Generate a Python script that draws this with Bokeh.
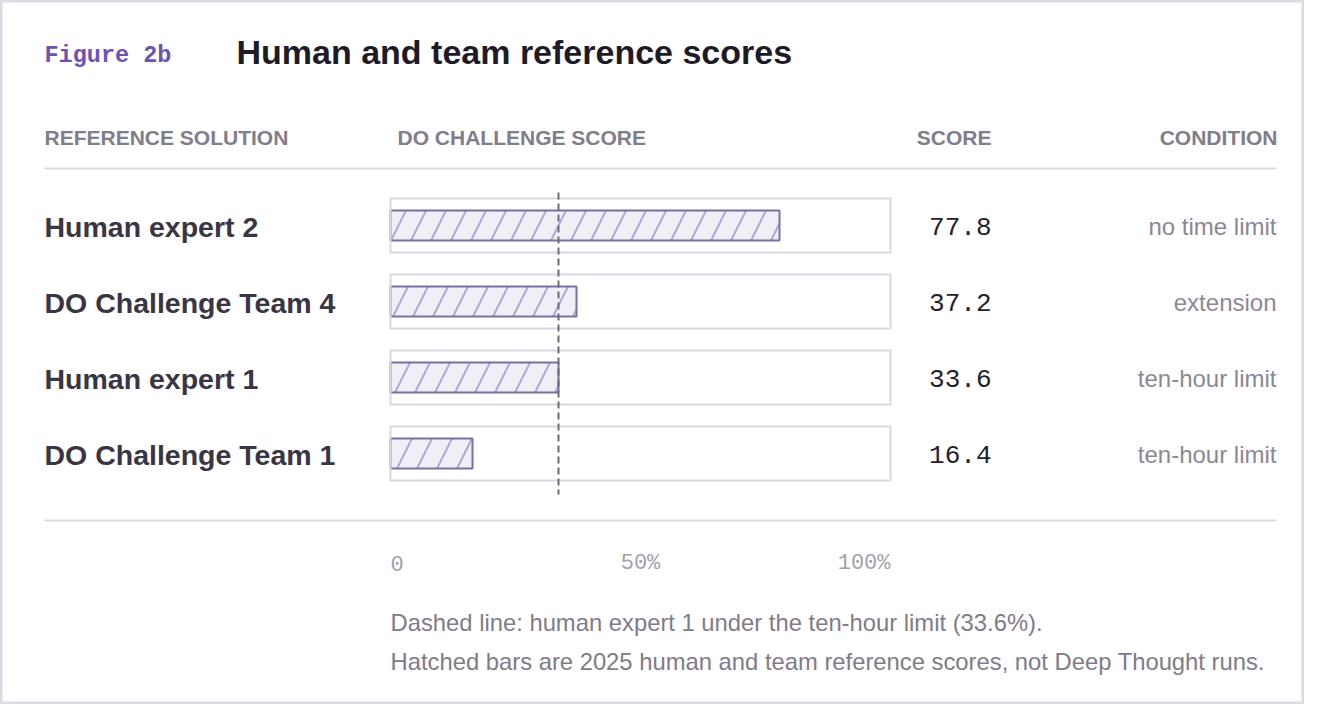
from bokeh.core.properties import value
from bokeh.embed import file_html
from bokeh.models import ColumnDataSource, Range1d
from bokeh.plotting import figure
from bokeh.resources import INLINE

# data
solutions = ["Human expert 2", "DO Challenge Team 4", "Human expert 1", "DO Challenge Team 1"]
scores = [77.8, 37.2, 33.6, 16.4]
conditions = ["no time limit", "extension", "ten-hour limit", "ten-hour limit"]
reference_score = 33.6  # human expert 1, ten-hour limit
tick_values = [0, 50, 100]
tick_labels = ["0", "50%", "100%"]

SANS = value("Liberation Sans")
MONO = value("Liberation Mono")

W, H = 1304, 704
X0, PX = 390, 5.0  # pixel of score 0, pixels per score point
Y0, ROW = 225, 76  # pixel of the first row centre, row pitch


def sx(px):
    # canvas pixel -> score units
    return (px - X0) / PX


def sy(py):
    # canvas pixel -> row units
    return (py - Y0) / ROW


p = figure(width=W, height=H, output_backend="svg", toolbar_location=None,
           x_range=Range1d(sx(0), sx(W)), y_range=Range1d(sy(H), sy(0)),
           x_axis_type=None, y_axis_type=None, min_border=0)
p.grid.visible = False
p.background_fill_color = "white"
p.border_fill_color = "white"
p.outline_line_color = "#dcdae2"
p.outline_line_width = 4

rows = list(range(len(solutions)))
src = ColumnDataSource(dict(
    row=rows,
    label_y=[r + 1 / ROW for r in rows],
    solution=solutions,
    score=scores,
    score_text=["{:.1f}".format(s) for s in scores],
    condition=conditions,
))

# track boxes, hatched bars, then the box outline on top
p.hbar(y="row", left=0, right=100, height=54 / ROW, source=src,
       fill_color="white", line_color=None)
p.hbar(y="row", left=0, right="score", height=30 / ROW, source=src,
       fill_color="#f1eff6", line_color="#7b70a3", line_width=2,
       hatch_pattern="/", hatch_color="#b1a6db", hatch_weight=2, hatch_scale=40)
p.hbar(y="row", left=0, right=100, height=54 / ROW, source=src,
       fill_color=None, line_color="#d9d7df", line_width=2)

# reference line
p.segment(x0=[reference_score], y0=[sy(192)], x1=[reference_score], y1=[sy(494)],
          line_color="#6f6a7a", line_width=2, line_dash="7 4")

# rules
p.segment(x0=[sx(44), sx(44)], y0=[sy(168), sy(520)], x1=[sx(1276), sx(1276)], y1=[sy(168), sy(520)],
          line_color="#dcdae2", line_width=2)

# title
p.text(x=[sx(44)], y=[sy(55)], text=["Figure 2b"], text_font=MONO, text_font_style="bold",
       text_font_size="23.5px", text_color="#6b52b3", text_baseline="middle")
p.text(x=[sx(236)], y=[sy(51)], text=["Human and team reference scores"], text_font=SANS,
       text_font_style="bold", text_font_size="34px", text_color="#1e1b29", text_baseline="middle")

# column headers
p.text(x=[sx(44), sx(397)], y=[sy(137)] * 2, text=["REFERENCE SOLUTION", "DO CHALLENGE SCORE"],
       text_font=SANS, text_font_style="bold", text_font_size="21px", text_color="#817d8c",
       text_baseline="middle", text_align="left")
p.text(x=[sx(991), sx(1277)], y=[sy(137)] * 2, text=["SCORE", "CONDITION"],
       text_font=SANS, text_font_style="bold", text_font_size="21px", text_color="#817d8c",
       text_baseline="middle", text_align="right")

# row texts
p.text(x=sx(44), y="label_y", text="solution", source=src, text_font=SANS, text_font_style="bold",
       text_font_size="28.5px", text_color="#3a3545", text_baseline="middle")
p.text(x=sx(991), y="label_y", text="score_text", source=src, text_font=MONO,
       text_font_size="26px", text_color="#23202c", text_baseline="middle", text_align="right")
p.text(x=sx(1276), y="label_y", text="condition", source=src, text_font=SANS,
       text_font_size="24px", text_color="#8b8896", text_baseline="middle", text_align="right")

# score scale
ticks = ColumnDataSource(dict(x=tick_values, y=[sy(563)] * len(tick_values), text=tick_labels,
                              align=["left", "center", "right"]))
p.text(x="x", y="y", text="text", source=ticks, text_font=MONO, text_font_size="22px",
       text_color="#a3a0ab", text_baseline="middle", text_align="align")

# notes
p.text(x=[sx(390)] * 2, y=[sy(622), sy(661)],
       text=["Dashed line: human expert 1 under the ten-hour limit (33.6%).",
             "Hatched bars are 2025 human and team reference scores, not Deep Thought runs."],
       text_font=SANS, text_font_size="23.8px", text_color="#7f7b8a", text_baseline="middle")

open("out.html", "w").write(file_html(p, INLINE))
